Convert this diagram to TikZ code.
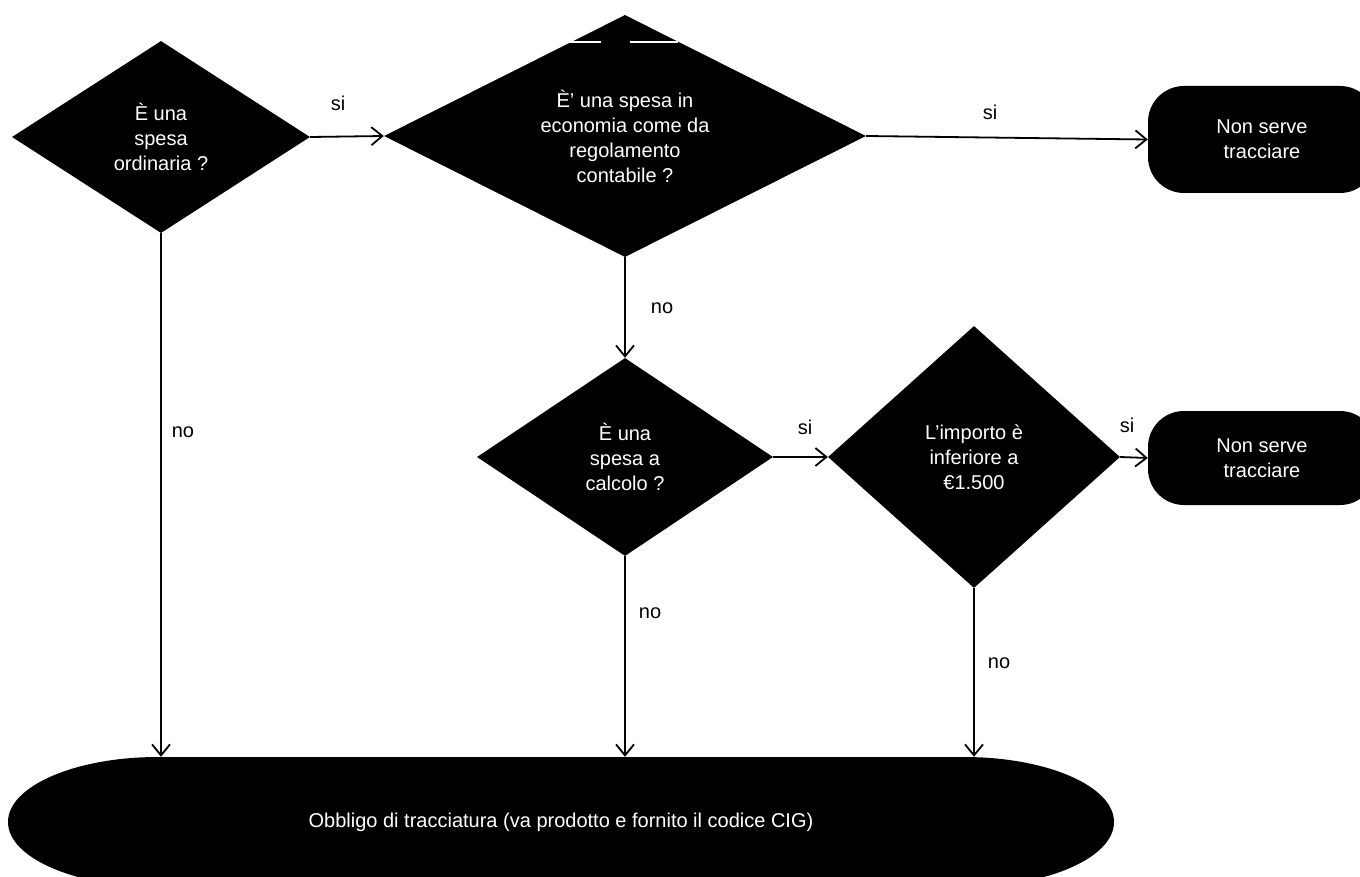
\documentclass[tikz,border=0pt]{standalone}
\usepackage{fontspec}
\setmainfont{Liberation Sans}
\usetikzlibrary{shapes.geometric,arrows.meta}
\begin{document}
\begin{tikzpicture}[x=1pt,y=1pt,
  every node/.style={font=\fontsize{20}{25}\selectfont},
  dec/.style={shape=diamond,fill=black,text=white,inner sep=0pt,aspect=2,align=center},
  term/.style={shape=rectangle,fill=black,text=white,rounded corners=36pt,align=center,minimum width=228pt},
  lab/.style={text=black,inner sep=0pt},
  conn/.style={draw=black,line width=1.8pt,-{Straight Barb[length=11pt,width=18pt,line width=1.8pt]}}]
\useasboundingbox (0,0) rectangle (1360,-877);
\fill[white] (0,0) rectangle (1360,-877);

\node[dec,minimum width=298pt,minimum height=192pt] (D1) at (161,-137) {È una\\spesa\\ordinaria ?};
\node[dec,minimum width=482pt,minimum height=242pt] (D2) at (625,-136) {È' una spesa in\\economia come da\\regolamento\\contabile ?};
\node[dec,minimum width=296pt,minimum height=198pt] (D3) at (625,-457) {È una\\spesa a\\calcolo ?};
\node[dec,minimum width=292pt,minimum height=262pt] (D4) at (974,-457) {L'importo è\\inferiore a\\€1.500};
\node[term,minimum height=107pt] (T1) at (1262,-139.5) {Non serve\\tracciare};
\node[term,minimum height=94pt] (T2) at (1262,-458) {Non serve\\tracciare};

% bottom terminal with elliptical ends
\fill[black] (158,-757) -- (964,-757)
  arc[start angle=90,end angle=-90,x radius=150,y radius=65]
  -- (158,-887) arc[start angle=270,end angle=90,x radius=150,y radius=65] -- cycle;
\node[text=white,minimum width=1106pt,minimum height=130pt,inner sep=0pt] (B) at (561,-822)
  {Obbligo di tracciatura (va prodotto e fornito il codice CIG)};

% scan artefact on top of D2
\draw[white,line width=1.2pt] (570,-42) -- (601,-42) (630,-42) -- (678,-42);

\draw[conn] (D1.east) -- (D2.west);
\draw[conn] (D2.east) -- (T1.west);
\draw[conn] (D2.south) -- (D3.north);
\draw[conn] (D3.east) -- (D4.west);
\draw[conn] (D4.east) -- (T2.west);
\draw[conn] (D1.south) -- (D1.south |- B.north);
\draw[conn] (D3.south) -- (D3.south |- B.north);
\draw[conn] (D4.south) -- (D4.south |- B.north);

\node[lab] (l1) at (338,-103) {si};
\node[lab] (l2) at (990,-112) {si};
\node[lab] (l3) at (662,-308) {no};
\node[lab] (l4) at (183,-432) {no};
\node[lab] (l5) at (805,-427) {si};
\node[lab] (l6) at (1127,-425) {si};
\node[lab] (l7) at (650,-613) {no};
\node[lab] (l8) at (999,-663) {no};
\end{tikzpicture}
\end{document}
